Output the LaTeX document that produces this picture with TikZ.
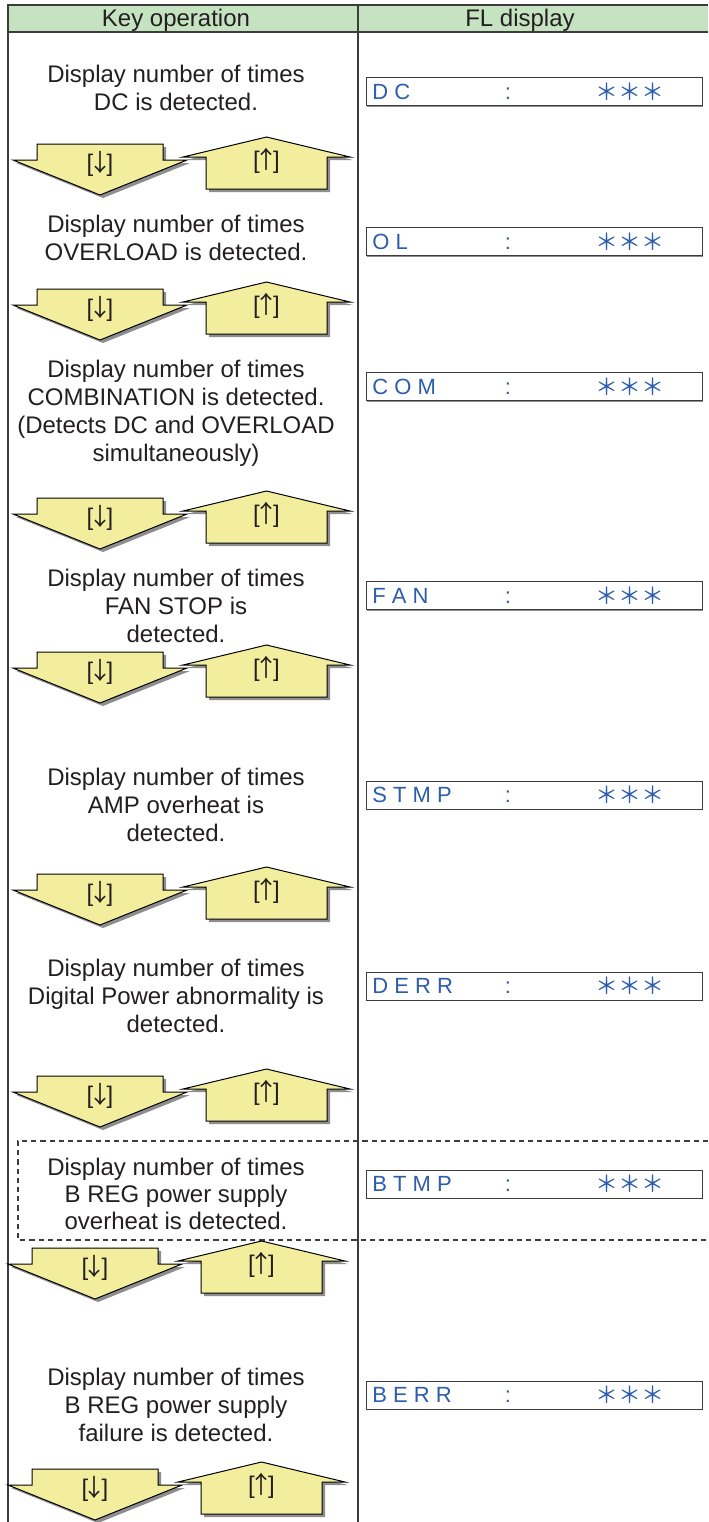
\documentclass[tikz,border=0pt]{standalone}
\usepackage{fontspec}
\setmainfont{Liberation Sans}
\newfontfamily\starfont{Noto Sans CJK SC}
\usetikzlibrary{shadows}
\definecolor{hdrgreen}{HTML}{C5E3C1}
\definecolor{keyyellow}{HTML}{F2EE9E}
\definecolor{flblue}{HTML}{2D5DAB}
\definecolor{rulegray}{HTML}{3C3C3C}
\definecolor{inkblack}{HTML}{231F20}
\definecolor{shadowgray}{HTML}{8E8E8E}
\tikzset{
  rule/.style={draw=rulegray, line width=0.55pt},
  dashrule/.style={draw=rulegray, line width=0.55pt, dash pattern=on 2.6pt off 2pt},
  keyline/.style={font=\fontsize{12}{14}\selectfont, text=inkblack, anchor=base, inner sep=0pt},
  hdrtext/.style={font=\fontsize{12}{14}\selectfont, text=inkblack, anchor=base, inner sep=0pt},
  keylabel/.style={font=\fontsize{12}{14}\selectfont, text=inkblack, inner sep=0pt},
  arrowbody/.style={fill=keyyellow, draw=black, line width=0.5pt, line join=miter},
  flbox/.style={draw=rulegray, line width=0.5pt, fill=white, minimum width=168pt, minimum height=14pt, inner sep=0pt,
    drop shadow={shadow xshift=0.5pt, shadow yshift=-0.5pt, fill=black!45, opacity=1}},
  fltext/.style={font=\fontsize{11}{12}\selectfont, text=flblue, inner sep=0pt},
  flstars/.style={font=\starfont\fontsize{11.5}{12}\selectfont, text=flblue, inner sep=0pt},
  keypair/.pic={
    \begin{scope}[shift={(3,3)}]
      \fill[shadowgray] (13,0) -- (37,0) -- (37,-16) -- (163,-16) -- (163,0) -- (187,0) -- (100,35) -- cycle;
    \end{scope}
    \filldraw[arrowbody] (13,0) -- (37,0) -- (37,-16) -- (163,-16) -- (163,0) -- (187,0) -- (100,35) -- cycle;
    \begin{scope}[shift={(3,3)}]
      \fill[shadowgray] (183,-3) -- (266.5,-23) -- (350,-3) -- (327,-3) -- (327,29) -- (206,29) -- (206,-3) -- cycle;
    \end{scope}
    \filldraw[arrowbody] (183,-3) -- (266.5,-23) -- (350,-3) -- (327,-3) -- (327,29) -- (206,29) -- (206,-3) -- cycle;
    \node[keylabel] (-down) at (100,3.5) {[\kern-0.22em{\starfont ↓}\kern-0.22em]};
    \node[keylabel] (-up) at (266.5,0.5) {[\kern-0.22em{\starfont ↑}\kern-0.22em]};
  }
}
\newcommand{\flrow}[3]{%
  \node[flbox] (#1box) at (534,#2) {};
  \node[fltext, anchor=base west] (#1name) at (372,#2+7.8) {#3};
  \node[fltext, anchor=base] (#1colon) at (508,#2+7.8) {:};
  \node[flstars] (#1stars) at (630,#2) {＊＊＊};
}
\begin{document}
\begin{tikzpicture}[x=0.5pt,y=-0.5pt]
\useasboundingbox (0,0) rectangle (708,1522);
% header
\fill[hdrgreen] (8,5) rectangle (708,32);
\draw[rule] (708,5) -- (8,5) -- (8,1522);
\draw[rule] (8,32) -- (708,32);
\draw[rule] (358,5) -- (358,1522);
\node[hdrtext] (hkey) at (176,26.6) {Key operation};
\node[hdrtext] (hfl) at (520,26.6) {FL display};

% DC
\node[keyline] (dc1) at (176,82.1) {Display number of times};
\node[keyline] (dc2) at (176,110.1) {DC is detected.};
\flrow{dc}{91.5}{D C}
\pic (g1) at (0,160) {keypair};

% OL
\node[keyline] (ol1) at (176,232.1) {Display number of times};
\node[keyline] (ol2) at (176,260.1) {OVERLOAD is detected.};
\flrow{ol}{241.5}{O L}
\pic (g2) at (0,305) {keypair};

% COM
\node[keyline] (com1) at (176,377.1) {Display number of times};
\node[keyline] (com2) at (176,405.1) {COMBINATION is detected.};
\node[keyline] (com3) at (176,433.1) {(Detects DC and OVERLOAD};
\node[keyline] (com4) at (176,461.1) {simultaneously)};
\flrow{com}{386.5}{C O M}
\pic (g3) at (0,514) {keypair};

% FAN
\node[keyline] (fan1) at (176,586.1) {Display number of times};
\node[keyline] (fan2) at (176,614.1) {FAN STOP is};
\node[keyline] (fan3) at (176,642.1) {detected.};
\flrow{fan}{595.5}{F A N}
\pic (g4) at (0,668) {keypair};

% STMP
\node[keyline] (stmp1) at (176,785.6) {Display number of times};
\node[keyline] (stmp2) at (176,813.6) {AMP overheat is};
\node[keyline] (stmp3) at (176,841.6) {detected.};
\flrow{stmp}{795}{S T M P}
\pic (g5) at (0,890) {keypair};

% DERR
\node[keyline] (derr1) at (176,976.6) {Display number of times};
\node[keyline] (derr2) at (176,1004.6) {Digital Power abnormality is};
\node[keyline] (derr3) at (176,1032.6) {detected.};
\flrow{derr}{986}{D E R R}
\pic (g6) at (0,1092) {keypair};

% BTMP (dashed)
\draw[dashrule] (708,1141) -- (18,1141) -- (18,1240) -- (708,1240);
\node[keyline] (btmp1) at (176,1175.6) {Display number of times};
\node[keyline] (btmp2) at (176,1202.6) {B REG power supply};
\node[keyline] (btmp3) at (176,1229.6) {overheat is detected.};
\flrow{btmp}{1184}{B T M P}
\pic (g7) at (-5,1264) {keypair};

% BERR
\node[keyline] (berr1) at (176,1385.6) {Display number of times};
\node[keyline] (berr2) at (176,1413.6) {B REG power supply};
\node[keyline] (berr3) at (176,1441.6) {failure is detected.};
\flrow{berr}{1395}{B E R R}
\pic (g8) at (-5,1485) {keypair};
\end{tikzpicture}
\end{document}
